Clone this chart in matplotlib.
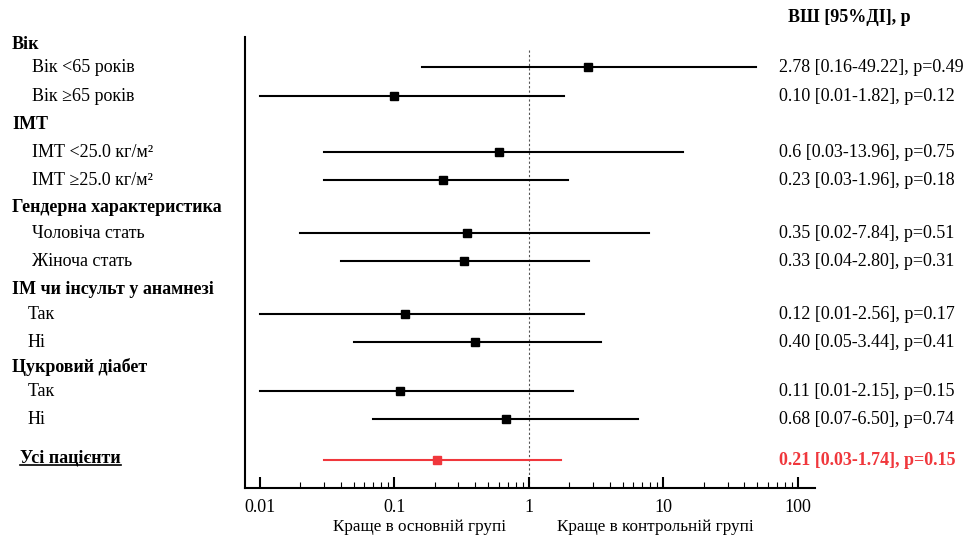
import numpy as np
import matplotlib.pyplot as plt
from matplotlib.transforms import blended_transform_factory
from matplotlib.lines import Line2D

plt.rcParams['font.family'] = ['Liberation Serif', 'DejaVu Serif']

# groups and subgroups
headers = ['Вік', 'ІМТ', 'Гендерна характеристика', 'ІМ чи інсульт у анамнезі', 'Цукровий діабет']
labels = ['Вік <65 років', 'Вік ≥65 років', 'ІМТ <25.0 кг/м²', 'ІМТ ≥25.0 кг/м²',
          'Чоловіча стать', 'Жіноча стать', 'Так', 'Ні', 'Так', 'Ні']
odds = [2.78, 0.10, 0.6, 0.23, 0.35, 0.33, 0.12, 0.40, 0.11, 0.68]
ci_lo = [0.16, 0.01, 0.03, 0.03, 0.02, 0.04, 0.01, 0.05, 0.01, 0.07]
ci_hi = [49.22, 1.82, 13.96, 1.96, 7.84, 2.80, 2.56, 3.44, 2.15, 6.50]
ci_txt = ['2.78 [0.16-49.22], p=0.49', '0.10 [0.01-1.82], p=0.12',
          '0.6 [0.03-13.96], p=0.75', '0.23 [0.03-1.96], p=0.18',
          '0.35 [0.02-7.84], p=0.51', '0.33 [0.04-2.80], p=0.31',
          '0.12 [0.01-2.56], p=0.17', '0.40 [0.05-3.44], p=0.41',
          '0.11 [0.01-2.15], p=0.15', '0.68 [0.07-6.50], p=0.74']
total_label = 'Усі пацієнти'
total_or, total_lo, total_hi = 0.21, 0.03, 1.74
total_txt = '0.21 [0.03-1.74], p=0.15'

# layout (y in pixel rows of the picture)
header_y = [44, 124, 207, 289, 367]
row_y = [67, 96, 152, 180, 233, 261, 314, 342, 391, 419]
label_x = [32, 32, 32, 32, 32, 32, 28, 28, 28, 28]
total_y = 460
W, H = 979, 538
red = '#f0373c'
fs = 13

fig = plt.figure(figsize=(W / 100, H / 100), dpi=100)
ax = fig.add_axes([245 / W, 1 - 488 / H, (815 - 245) / W, (488 - 37) / H])
ax.set_xscale('log')
ax.set_xlim(0.0078, 134)
ax.set_ylim(488, 37)
for s in ['top', 'right']:
    ax.spines[s].set_visible(False)
for s in ['left', 'bottom']:
    ax.spines[s].set_linewidth(1.5)
ax.set_yticks([])
ax.set_xticks([0.01, 0.1, 1, 10, 100])
ax.set_xticklabels(['0.01', '0.1', '1', '10', '100'], fontsize=fs)
minor = [m * 10.0 ** e for e in range(-2, 2) for m in range(2, 10)]
ax.set_xticks(minor, minor=True)
ax.set_xticklabels([], minor=True)
ax.tick_params(axis='x', which='major', direction='in', length=8, width=1.5, pad=8)
ax.tick_params(axis='x', which='minor', direction='in', length=4.5, width=0.8)

ax.plot([1, 1], [50, 488], color='#555555', lw=0.8, ls=(0, (2, 2)), zorder=1)

for y, o, lo, hi in zip(row_y, odds, ci_lo, ci_hi):
    ax.plot([lo, hi], [y, y], color='black', lw=1.5, zorder=2)
    ax.plot(o, y, marker='s', ms=6, color='black', zorder=3)
ax.plot([total_lo, total_hi], [total_y, total_y], color=red, lw=1.5, zorder=2)
ax.plot(total_or, total_y, marker='s', ms=6, color=red, zorder=3)

tr = blended_transform_factory(fig.transFigure, ax.transData)
for t, y in zip(headers, header_y):
    fig.text(12 / W, y, t, transform=tr, fontsize=fs, fontweight='bold', va='center')
for t, y, x in zip(labels, row_y, label_x):
    fig.text(x / W, y, t, transform=tr, fontsize=fs, va='center')
tot = fig.text(20 / W, total_y - 2, total_label, transform=tr, fontsize=fs,
               fontweight='bold', va='center')

fig.text(788 / W, 1 - 18 / H, 'ВШ [95%ДІ], р', fontsize=fs, fontweight='bold', va='center')
for t, y in zip(ci_txt, row_y):
    fig.text(779 / W, y, t, transform=tr, fontsize=fs, va='center')
fig.text(779 / W, total_y, total_txt, transform=tr, fontsize=fs, va='center',
         fontweight='bold', color=red)

fig.text(420 / W, 1 - 527 / H, 'Краще в основній групі', fontsize=12.3,
         ha='center', va='center')
fig.text(655 / W, 1 - 527 / H, 'Краще в контрольній групі', fontsize=12.3,
         ha='center', va='center')

# underline for the total label
fig.canvas.draw()
bb = tot.get_window_extent().transformed(fig.transFigure.inverted())
fig.add_artist(Line2D([bb.x0, bb.x1], [bb.y0 + 0.002, bb.y0 + 0.002],
                      transform=fig.transFigure, color='black', lw=1.2))

fig.savefig('out.png', dpi=100)
